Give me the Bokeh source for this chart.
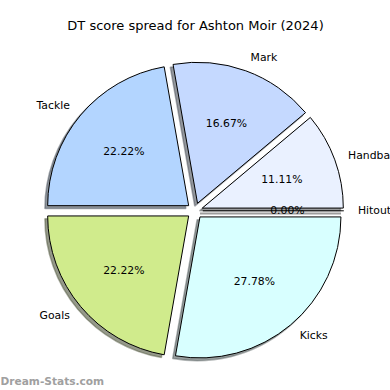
import numpy as np
from bokeh.plotting import figure
from bokeh.models import Range1d, ColumnDataSource
from bokeh.core.properties import value
from bokeh.embed import file_html
from bokeh.resources import INLINE

title = "DT score spread for Ashton Moir (2024)"
categories = ["Handballs", "Mark", "Tackle", "Goals", "Kicks", "Hitouts"]
scores = [2, 3, 4, 4, 5, 0]
colors = ["#eaf1ff", "#c5d9ff", "#b3d5ff", "#d0eb8c", "#d8ffff", "#f0f0f0"]
watermark = "Dream-Stats.com"

W = H = 390
cx, cy = 194.3, 179.7
R = 141.0
EXPLODE = 8.0
SH = 2.8
LABEL_FS = "10.83px"

vals = np.array(scores, dtype=float)
frac = vals / vals.sum()
ends = np.cumsum(frac) * 2 * np.pi
starts = ends - frac * 2 * np.pi
mids = (starts + ends) / 2

wx = cx + EXPLODE * np.cos(mids)
wy = cy + EXPLODE * np.sin(mids)

def darken(h, f=0.3):
    h = h.lstrip("#")
    r, g, b = (int(h[i:i + 2], 16) for i in (0, 2, 4))
    return "#%02x%02x%02x" % (int(r * f), int(g * f), int(b * f))

nz = vals > 0
src = ColumnDataSource(dict(
    x=wx[nz], y=wy[nz], sx=wx[nz] - SH, sy=wy[nz] - SH,
    start=starts[nz], end=ends[nz],
    color=[c for c, k in zip(colors, nz) if k],
    shadow=[darken(c) for c, k in zip(colors, nz) if k],
))
z = ~nz
zsrc = ColumnDataSource(dict(
    x0=wx[z], y0=wy[z],
    x1=wx[z] + R * np.cos(starts[z]), y1=wy[z] + R * np.sin(starts[z]),
    sx0=wx[z] - SH, sy0=wy[z] - SH,
    sx1=wx[z] + R * np.cos(starts[z]) - SH, sy1=wy[z] + R * np.sin(starts[z]) - SH,
))

p = figure(width=W, height=H, output_backend="svg", toolbar_location=None,
           x_range=Range1d(0, W), y_range=Range1d(0, H),
           x_axis_type=None, y_axis_type=None, min_border=0)
p.grid.visible = False
p.outline_line_color = None
p.background_fill_color = "white"
p.border_fill_color = "white"

# shadows
p.wedge(x="sx", y="sy", radius=R, start_angle="start", end_angle="end",
        fill_color="shadow", fill_alpha=0.55, line_color="shadow", line_alpha=0.4,
        line_width=1.5, source=src)
p.segment(x0="sx0", y0="sy0", x1="sx1", y1="sy1", line_color="#4c4c4c",
          line_alpha=0.55, line_width=2, source=zsrc)
# wedges
p.wedge(x="x", y="y", radius=R, start_angle="start", end_angle="end",
        fill_color="color", line_color="black", line_width=1, source=src)
p.segment(x0="x0", y0="y0", x1="x1", y1="y1", line_color="black",
          line_width=1, source=zsrc)

lx = cx + (EXPLODE + 1.1 * R) * np.cos(mids)
ly = cy + (EXPLODE + 1.1 * R) * np.sin(mids)
for i, cat in enumerate(categories):
    p.text(x=[lx[i]], y=[ly[i]], text=[cat],
           text_align="left" if np.cos(mids[i]) > 0 else "right",
           text_baseline="middle", text_font=value("DejaVu Sans"),
           text_font_size=LABEL_FS, text_color="black")

px = cx + (EXPLODE + 0.6 * R) * np.cos(mids)
py = cy + (EXPLODE + 0.6 * R) * np.sin(mids)
pct = ["%.2f%%" % (f * 100) for f in frac]
p.text(x=px, y=py, text=pct, text_align="center", text_baseline="middle",
       text_font=value("DejaVu Sans"), text_font_size=LABEL_FS, text_color="black")

p.text(x=[195], y=[365], text=[title], text_align="center", text_baseline="middle",
       text_font=value("DejaVu Sans"), text_font_size="13px", text_color="black")

p.text(x=[0], y=[10], text=[watermark], text_align="left", text_baseline="middle",
       text_font=value("DejaVu Sans"), text_font_style="bold",
       text_font_size="10.6px", text_color="#a0a0a0")

open("out.html", "w").write(file_html(p, INLINE))
